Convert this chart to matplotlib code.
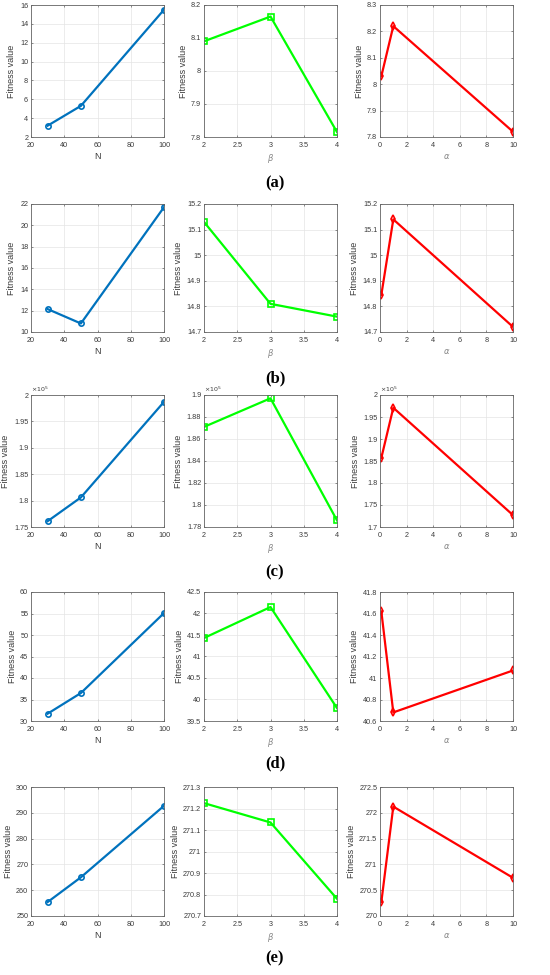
import matplotlib
matplotlib.use('Agg')
import matplotlib.pyplot as plt
from matplotlib.ticker import FuncFormatter, MultipleLocator

plt.rcParams['font.family'] = ['Liberation Sans', 'DejaVu Sans']
plt.rcParams['mathtext.fontset'] = 'dejavusans'

# x values of the three parameter studies
N_vals = [30, 50, 100]
beta_vals = [2, 3, 4]
alpha_vals = [0.1, 1, 10]

# fitness values per test function (rows a..e)
fit_N = [
    [3.2, 5.3, 15.5],
    [12.15, 10.8, 21.7],
    [1.761e5, 1.806e5, 1.987e5],
    [31.7, 36.5, 55.1],
    [255.4, 265.0, 292.7],
]
fit_beta = [
    [8.09, 8.165, 7.815],
    [15.13, 14.81, 14.76],
    [1.871e5, 1.897e5, 1.786e5],
    [41.43, 42.15, 39.8],
    [271.225, 271.135, 270.78],
]
fit_alpha = [
    [8.03, 8.22, 7.82],
    [14.845, 15.14, 14.72],
    [1.857e5, 1.971e5, 1.727e5],
    [41.62, 40.68, 41.07],
    [270.27, 272.12, 270.74],
]
row_labels = ['a', 'b', 'c', 'd', 'e']

# axis limits / tick steps as shown
ylim_N = [(2, 16), (10, 22), (1.75e5, 2e5), (30, 60), (250, 300)]
ystep_N = [2, 2, 0.05e5, 5, 10]
ylim_beta = [(7.8, 8.2), (14.7, 15.2), (1.78e5, 1.9e5), (39.5, 42.5), (270.7, 271.3)]
ystep_beta = [0.1, 0.1, 0.02e5, 0.5, 0.1]
ylim_alpha = [(7.8, 8.3), (14.7, 15.2), (1.7e5, 2e5), (40.6, 41.8), (270, 272.5)]
ystep_alpha = [0.1, 0.1, 0.05e5, 0.2, 0.5]

fig = plt.figure(figsize=(5.5, 9.75), dpi=100)
W, H = 550.0, 975.0
col_x = [31, 204, 380]
ax_w = 133
row_top = [5, 204, 395, 592, 787]
row_bot = [137, 332, 527, 721, 916]
lab_y = [183, 378, 572, 763, 958]

tick_col = '#3a3a3a'


def style(ax, xlim, xstep, ylim, ystep, scale):
    ax.set_xlim(*xlim)
    ax.set_ylim(*ylim)
    ax.xaxis.set_major_locator(MultipleLocator(xstep))
    ax.yaxis.set_major_locator(MultipleLocator(ystep))
    ax.xaxis.set_major_formatter(FuncFormatter(lambda v, p: '%g' % round(v, 6)))
    ax.yaxis.set_major_formatter(FuncFormatter(lambda v, p: '%g' % round(v / scale, 6)))
    ax.grid(True, color='#e4e4e4', linewidth=0.5)
    ax.set_axisbelow(True)
    ax.tick_params(direction='in', length=1.5, width=0.4, labelsize=5.2,
                   colors=tick_col, top=True, right=True)
    ax.tick_params(axis='x', pad=3.5)
    ax.tick_params(axis='y', pad=2)
    for s in ax.spines.values():
        s.set_color('#666666')
        s.set_linewidth(0.6)
    ax.set_ylabel('Fitness value', fontsize=6.5, color=tick_col, labelpad=2.5)
    if scale != 1:
        ax.text(0.0, 1.01, r'$\times10^5$', transform=ax.transAxes,
                fontsize=4.5, color=tick_col, ha='left', va='bottom')


for r in range(5):
    b = 1 - row_bot[r] / H
    h = (row_bot[r] - row_top[r]) / H
    scale = 1e5 if r == 2 else 1

    ax = fig.add_axes([col_x[0] / W, b, ax_w / W, h])
    ax.plot(N_vals, fit_N[r], color='#0072BD', lw=1.6, marker='o', ms=3.8,
            mfc='none', mew=1.2)
    style(ax, (20, 100), 20, ylim_N[r], ystep_N[r], scale)
    ax.set_xlabel('N', fontsize=6.5, color=tick_col, labelpad=2)

    ax = fig.add_axes([col_x[1] / W, b, ax_w / W, h])
    ax.plot(beta_vals, fit_beta[r], color='#00FF00', lw=1.6, marker='s', ms=3.8,
            mfc='none', mew=1.2)
    style(ax, (2, 4), 0.5, ylim_beta[r], ystep_beta[r], scale)
    ax.set_xlabel(r'$\beta$', fontsize=6, color='#888888', labelpad=2)

    ax = fig.add_axes([col_x[2] / W, b, ax_w / W, h])
    ax.plot(alpha_vals, fit_alpha[r], color='#FF0000', lw=1.6, marker='d', ms=3.8,
            mfc='none', mew=1.2)
    style(ax, (0, 10), 2, ylim_alpha[r], ystep_alpha[r], scale)
    ax.set_xlabel(r'$\alpha$', fontsize=6, color='#888888', labelpad=2)

    fig.text(0.5, 1 - lab_y[r] / H, '(' + row_labels[r] + ')', ha='center', va='center',
             fontsize=12, fontweight='bold', family='Liberation Serif')

fig.savefig('out.png', dpi=100)
